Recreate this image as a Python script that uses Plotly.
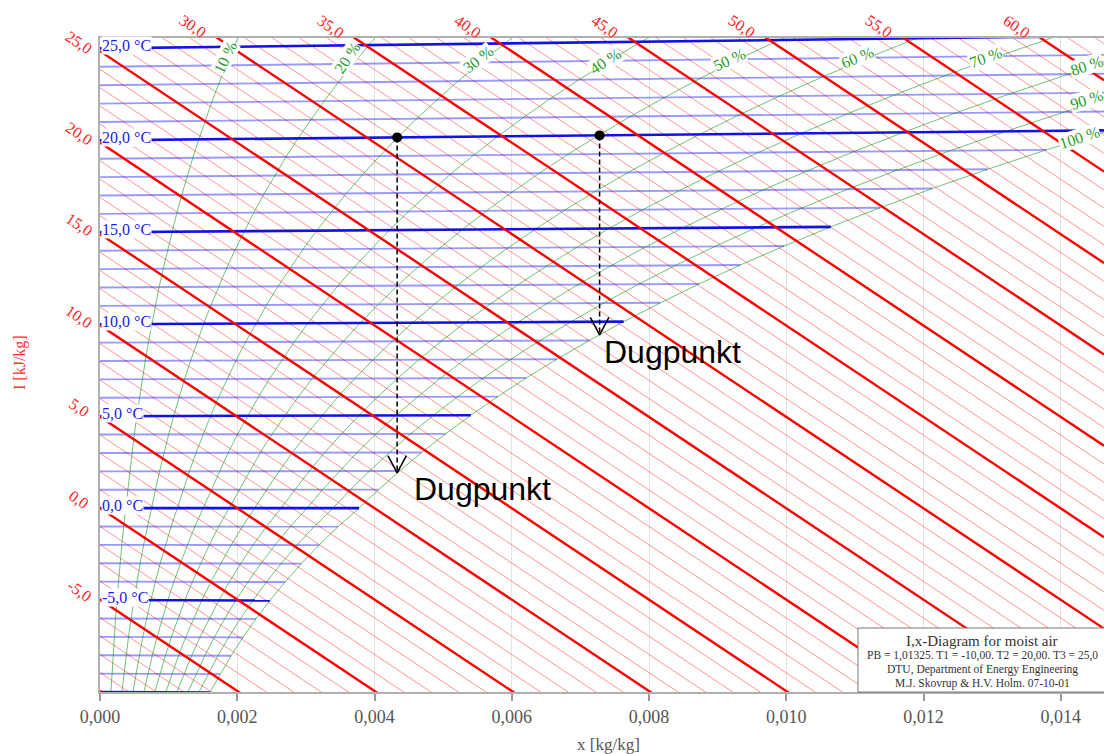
import plotly.graph_objects as go

# ---------------- data ----------------
P_BARO = 101325.0  # Pa  (PB = 1,01325 bar)

# saturation vapour pressure table (Pa), over ice below 0 degC
temps = list(range(-10, 27))
ps_pa = [259.9, 284.1, 310.2, 338.3, 368.7, 401.7, 437.3, 475.7, 517.2, 562.0, 611.2,
         657.1, 706.0, 757.9, 813.5, 872.6, 935.4, 1002.1, 1073.0, 1148.2, 1228.1,
         1312.9, 1402.7, 1497.9, 1598.8, 1705.6, 1818.5, 1938.0, 2064.4, 2197.8,
         2339.3, 2487.7, 2645.3, 2810.4, 2985.0, 3169.9, 3363.0]

iso_temps = list(range(-10, 26))           # isotherms drawn (degC)
iso_label_temps = [25, 20, 15, 10, 5, 0, -5]
h_values = list(range(-10, 64))            # enthalpy lines (kJ/kg)
h_left_labels = [-5, 0, 5, 10, 15, 20, 25]
h_top_labels = [30, 35, 40, 45, 50, 55, 60]
rh_levels = [10, 20, 30, 40, 50, 60, 70, 80, 90, 100]
rh_label_x = [0.00182, 0.00361, 0.00551, 0.00736, 0.00918, 0.01104, 0.01291, 0.01438, 0.01438, 0.01428]
rh_label_y = [24.68, 24.63, 24.52, 24.41, 24.52, 24.63, 24.68, 24.24, 22.33, 20.25]

x_ticks = [0.000, 0.002, 0.004, 0.006, 0.008, 0.010, 0.012, 0.014]
x_tick_text = ["0,000", "0,002", "0,004", "0,006", "0,008", "0,010", "0,012", "0,014"]

dew_x = [0.00433, 0.00728]       # kg/kg
dew_state_T = [20.0, 20.0]       # degC
dew_point_T = [1.9, 9.3]         # degC
dew_text = ["Dugpunkt", "Dugpunkt"]

legend_lines = ["I,x-Diagram for moist air",
                "PB = 1,01325. T1 = -10,00. T2 = 20,00. T3 = 25,0",
                "DTU, Department of Energy Engineering",
                "M.J. Skovrup & H.V. Holm. 07-10-01"]

# ---------------- chart geometry ----------------
X_MAX = 0.01463
Y_MIN, Y_MAX = -10.06, 25.72
SKEW = 2501.0
SERIF = "Liberation Serif"


def sat_x(T, phi=1.0):
    ps = ps_pa[temps.index(T)]
    return 0.622 * phi * ps / (P_BARO - phi * ps)


def y_of(T, x):
    return 1.006 * T + 1.86 * T * x


def comma(v, nd=1):
    return f"{v:.{nd}f}".replace(".", ",")


fig = go.Figure()


def add_lines(segs, color, width, dash=None):
    xs, ys = [], []
    for (xa, ya) in segs:
        xs += list(xa) + [None]
        ys += list(ya) + [None]
    fig.add_trace(go.Scatter(x=xs, y=ys, mode="lines", hoverinfo="skip", showlegend=False,
                             line=dict(color=color, width=width, dash=dash)))


# enthalpy lines
thin_h, thick_h = [], []
for h in h_values:
    seg = ([0.0, X_MAX], [h, h - SKEW * X_MAX])
    (thick_h if h % 5 == 0 else thin_h).append(seg)

# isotherms
thin_t, thick_t = [], []
for T in iso_temps:
    xe = sat_x(T)
    seg = ([0.0, xe], [y_of(T, 0.0), y_of(T, xe)])
    (thick_t if T % 5 == 0 else thin_t).append(seg)

# relative humidity curves
rh_segs = []
for rh in rh_levels:
    phi = rh / 100.0
    xs = [sat_x(T, phi) for T in temps]
    ys = [y_of(T, x) for T, x in zip(temps, xs)]
    rh_segs.append((xs, ys))

add_lines(thin_h, "rgba(255,0,0,0.42)", 1)
add_lines(thin_t, "rgba(0,0,255,0.40)", 1.9)
add_lines(rh_segs, "rgba(0,140,0,0.55)", 1)
add_lines(thick_t, "#1212e6", 2.6)
add_lines(thick_h, "#ff0000", 2.4)

# dew-point example
dash_segs, head_segs = [], []
dx_head, dy_head = 0.000135, 0.95
for x, T1, Td in zip(dew_x, dew_state_T, dew_point_T):
    y1, y2 = y_of(T1, x), y_of(Td, x)
    dash_segs.append(([x, x], [y1, y2]))
    head_segs.append(([x - dx_head, x, x + dx_head], [y2 + dy_head, y2, y2 + dy_head]))
add_lines(dash_segs, "black", 1.5, dash="5px,3px")
add_lines(head_segs, "black", 1.5)
fig.add_trace(go.Scatter(x=dew_x, y=[y_of(T, x) for T, x in zip(dew_state_T, dew_x)],
                         mode="markers", marker=dict(color="black", size=10),
                         hoverinfo="skip", showlegend=False))

ann = []
# isotherm labels
for T in iso_label_temps:
    ann.append(dict(x=0, y=y_of(T, 0), xref="x", yref="y", xanchor="left", yanchor="middle",
                    xshift=1, yshift=3, text=f"{comma(T)} °C", showarrow=False,
                    font=dict(family=SERIF, size=16, color="#2020e0"),
                    bgcolor="white", borderpad=0))
# enthalpy labels, left
for h in h_left_labels:
    ann.append(dict(x=0, y=h, xref="x", yref="y", xanchor="center", yanchor="middle",
                    xshift=-21, yshift=9, text=comma(h), showarrow=False, textangle=34,
                    font=dict(family=SERIF, size=16, color="#ff2020")))
# enthalpy labels, top
for h in h_top_labels:
    xt = (h - Y_MAX) / SKEW
    ann.append(dict(x=xt, y=Y_MAX, xref="x", yref="y", xanchor="center", yanchor="middle",
                    xshift=-24, yshift=12, text=comma(h), showarrow=False, textangle=34,
                    font=dict(family=SERIF, size=16, color="#ff2020")))
# RH labels
rh_angles = [-64, -56, -38, -33, -24, -22, -20, -18, -18, -18]
for rh, lx, ly, ang in zip(rh_levels, rh_label_x, rh_label_y, rh_angles):
    ann.append(dict(x=lx, y=ly, xref="x", yref="y", xanchor="center", yanchor="middle",
                    text=f"{rh} %", showarrow=False, textangle=ang,
                    font=dict(family=SERIF, size=16, color="#2a9a2a"),
                    bgcolor="white", borderpad=0))
# Dugpunkt texts
dew_shift = [(15, 4), (2, 3)]
for x, Td, t, (xs_, ys_) in zip(dew_x, dew_point_T, dew_text, dew_shift):
    ann.append(dict(x=x, y=y_of(Td, x), xref="x", yref="y", xanchor="left", yanchor="top",
                    xshift=xs_, yshift=ys_, text=t, showarrow=False,
                    font=dict(family="Liberation Sans", size=32, color="black")))


def px2paper(px, py):
    return (px - 100) / 1004.0, (692 - py) / 654.0


# axis titles
ax, ay = px2paper(20, 363)
ann.append(dict(x=ax, y=ay, xref="paper", yref="paper", xanchor="center", yanchor="middle",
                text="I [kJ/kg]", showarrow=False,
                textangle=-90, font=dict(family=SERIF, size=16, color="#ff3030")))
ax, ay = px2paper(608, 744)
ann.append(dict(x=ax, y=ay, xref="paper", yref="paper", xanchor="center", yanchor="middle",
                text="x [kg/kg]", showarrow=False,
                font=dict(family=SERIF, size=17, color="#555555")))

# legend box text
legend_pos = [(982, 641, 15), (982, 655, 11.5), (982, 669, 11.5), (982, 683, 11.5)]
for txt, (px, py, fs) in zip(legend_lines, legend_pos):
    ax, ay = px2paper(px, py)
    ann.append(dict(x=ax, y=ay, xref="paper", yref="paper", xanchor="center", yanchor="middle",
                    text=txt, showarrow=False, font=dict(family=SERIF, size=fs, color="#333333")))

bx0, by1 = px2paper(858, 628)
fig.add_shape(type="rect", xref="paper", yref="paper", x0=bx0, x1=1.02, y0=0, y1=by1,
              fillcolor="white", line=dict(color="#777777", width=1), layer="above")

fig.update_layout(
    width=1104, height=754,
    margin=dict(l=100, r=0, t=38, b=62),
    paper_bgcolor="white", plot_bgcolor="white",
    separators=", ",
    annotations=ann,
    xaxis=dict(range=[0, X_MAX], tickvals=x_ticks, ticktext=x_tick_text,
               ticks="outside", ticklen=7, tickcolor="#999999", tickwidth=1.5,
               showline=True, linecolor="#b0b0b0", linewidth=2, mirror=True,
               showgrid=True, gridcolor="#e4e4e4", gridwidth=1, zeroline=False,
               tickfont=dict(family=SERIF, size=18, color="#555555")),
    yaxis=dict(range=[Y_MIN, Y_MAX], showticklabels=False, showgrid=False, zeroline=False,
               showline=True, linecolor="#b0b0b0", linewidth=2, ticks=""),
)

fig.write_html("out.html")
